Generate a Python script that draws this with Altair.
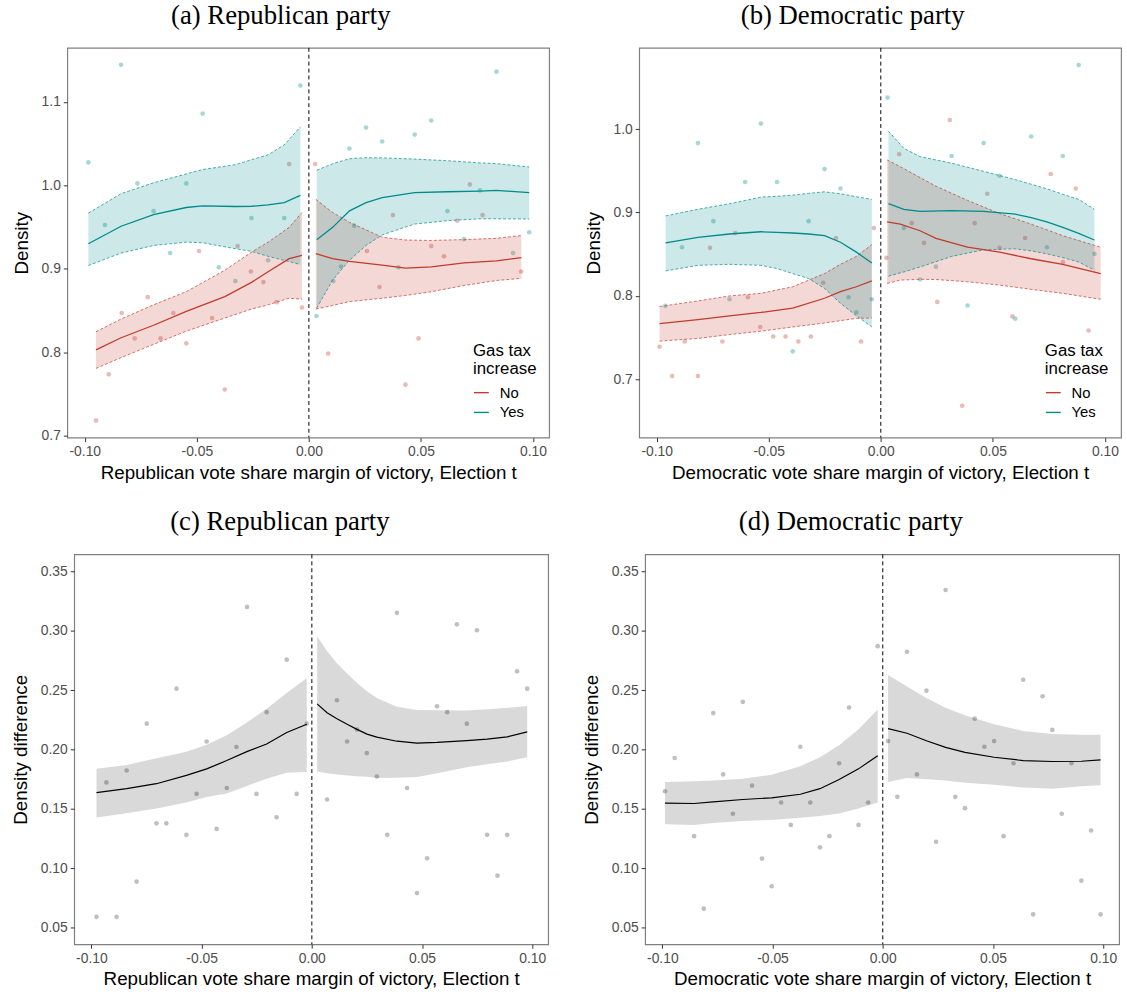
import altair as alt
import pandas as pd

# ---------------- shared ----------------
XDOM = [-0.1078, 0.1072]
XTICKS = [-0.10, -0.05, 0.0, 0.05, 0.10]
GROUPS = ["No", "Yes"]
GROUP_COLORS = ["#C13B2E", "#008B8B"]
REP_XTITLE = "Republican vote share margin of victory, Election t"
DEM_XTITLE = "Democratic vote share margin of victory, Election t"

# ---------------- panel (a) Republican party: density by gas tax ----------------
a_yes_x = [-0.0838, -0.0038, -0.0474, -0.0984, -0.0765, -0.0547, -0.0910, -0.0693, -0.0256, -0.0110,
           -0.0619, -0.0402, -0.0182, -0.0328, 0.0034, 0.0837, 0.0546, 0.0255, 0.0472, 0.0327,
           0.0181, 0.0763, 0.0618, 0.0202, 0.0983, 0.0692, 0.0143, 0.0400, 0.0109, 0.0911]
a_yes_y = [1.1447, 1.1198, 1.0861, 1.0276, 1.0024, 1.0024, 0.9525, 0.9691, 0.9608, 0.9608,
           0.9189, 0.9019, 0.9102, 0.8853, 0.8434, 1.1364, 1.0779, 1.0695, 1.0609, 1.0526,
           1.0442, 0.9940, 0.9691, 0.9517, 0.9438, 0.9355, 0.9027, 0.9019, 0.8853, 0.9189]
a_no_x = [-0.0088, -0.0318, -0.0490, -0.0719, -0.0835, -0.0605, -0.0432, -0.0259, -0.0203, -0.0144,
          -0.0777, -0.0662, -0.0547, -0.0893, -0.0375, -0.0950, -0.0031, 0.0028, 0.0718, 0.0375,
          0.0775, 0.0662, 0.0259, 0.0546, 0.0603, 0.0315, 0.0947, 0.0086, 0.0489, 0.0431]
a_no_y = [1.0256, 0.9272, 0.9213, 0.8660, 0.8470, 0.8470, 0.8410, 0.8968, 0.8841, 0.8600,
          0.8165, 0.8165, 0.8106, 0.7734, 0.7552, 0.7180, 0.8536, 1.0256, 1.0012, 0.9644,
          0.9644, 0.9576, 0.9213, 0.9272, 0.9150, 0.8782, 0.8968, 0.7983, 0.8165, 0.7611]

a_yes_l_x = [-0.0984, -0.0838, -0.0693, -0.0547, -0.0474, -0.0328, -0.0256, -0.0182, -0.0110, -0.0038]
a_yes_l_fit = [0.930, 0.951, 0.965, 0.9735, 0.9754, 0.9747, 0.9750, 0.9766, 0.9794, 0.9881]
a_yes_l_lo = [0.9039, 0.9189, 0.9280, 0.9320, 0.9312, 0.9241, 0.9209, 0.9150, 0.9102, 0.9051]
a_yes_l_hi = [0.9668, 0.9901, 1.0031, 1.0138, 1.0190, 1.0249, 1.0308, 1.0367, 1.0486, 1.0703]

a_no_l_x = [-0.0950, -0.0838, -0.0693, -0.0547, -0.0375, -0.0256, -0.0182, -0.0088, -0.0031]
a_no_l_fit = [0.8027, 0.8173, 0.8323, 0.8489, 0.8667, 0.8837, 0.8964, 0.9122, 0.9161]
a_no_l_lo = [0.7805, 0.7935, 0.8094, 0.8252, 0.8410, 0.8517, 0.8568, 0.8647, 0.8635]
a_no_l_hi = [0.8244, 0.8398, 0.8568, 0.8726, 0.8983, 0.9200, 0.9319, 0.9497, 0.9675]

a_yes_r_x = [0.0035, 0.0106, 0.0181, 0.0255, 0.0327, 0.0472, 0.0618, 0.0764, 0.0837, 0.0983]
a_yes_r_fit = [0.9347, 0.9497, 0.9695, 0.9794, 0.9853, 0.9913, 0.9924, 0.9932, 0.9940, 0.9913]
a_yes_r_lo = [0.8529, 0.8865, 0.9102, 0.9280, 0.9407, 0.9537, 0.9577, 0.9600, 0.9600, 0.9597]
a_yes_r_hi = [1.0182, 1.0260, 1.0320, 1.0332, 1.0330, 1.0316, 1.0296, 1.0270, 1.0261, 1.0221]

a_no_r_x = [0.0031, 0.0106, 0.0181, 0.0327, 0.0431, 0.0546, 0.0692, 0.0837, 0.0948]
a_no_r_fit = [0.9181, 0.9122, 0.9090, 0.9043, 0.9007, 0.9023, 0.9070, 0.9094, 0.9134]
a_no_r_lo = [0.8517, 0.8560, 0.8607, 0.8647, 0.8680, 0.8725, 0.8800, 0.8860, 0.8885]
a_no_r_hi = [0.9833, 0.9675, 0.9557, 0.9379, 0.9345, 0.9340, 0.9350, 0.9365, 0.9399]

# ---------------- panel (b) Democratic party: density by gas tax ----------------
b_yes_x = [-0.0535, -0.0816, 0.0030, -0.0251, -0.0605, -0.0463, -0.0180, -0.0747, -0.0322, -0.0887,
           -0.0961, -0.0675, -0.0144, -0.0109, -0.0040, -0.0393, 0.0883, 0.0671, 0.0459, 0.0316,
           0.0812, 0.0530, 0.0103, 0.0741, 0.0953, 0.0246, 0.0175, 0.0387, 0.0600]
b_yes_y = [1.0067, 0.9833, 1.0379, 0.9521, 0.9367, 0.9367, 0.9288, 0.8897, 0.8897, 0.8584,
           0.7881, 0.7960, 0.7984, 0.7802, 0.7960, 0.7335, 1.0770, 0.9912, 0.9833, 0.9679,
           0.9679, 0.9442, 0.8814, 0.8584, 0.8505, 0.8351, 0.8197, 0.7885, 0.7727]
b_no_x = [-0.0762, -0.0650, -0.0200, -0.0593, -0.0538, -0.0031, 0.0025, -0.0257, -0.0987, -0.0875,
          -0.0707, -0.0480, -0.0425, -0.0368, -0.0312, -0.0088, -0.0931, -0.0816, 0.0308, 0.0082,
          0.0758, 0.0870, 0.0475, 0.0138, 0.0419, 0.0193, 0.0644, 0.0530, 0.0813, 0.0252,
          0.0587, 0.0363, 0.0927]
b_no_y = [0.8577, 0.8755, 0.8695, 0.7984, 0.7628, 0.8814, 0.8458, 0.8158, 0.7390, 0.7454,
          0.7454, 0.7513, 0.7513, 0.7454, 0.7513, 0.7454, 0.7039, 0.7039, 1.0110, 0.9699,
          0.9462, 0.9288, 0.9225, 0.8873, 0.8873, 0.8636, 0.8695, 0.8577, 0.8407, 0.7928,
          0.7754, 0.6683, 0.7585]

b_yes_l_x = [-0.0960, -0.0816, -0.0675, -0.0535, -0.0463, -0.0393, -0.0322, -0.0251, -0.0180, -0.0109, -0.0040]
b_yes_l_fit = [0.8636, 0.8703, 0.8743, 0.8770, 0.8762, 0.8755, 0.8743, 0.8723, 0.8644, 0.8525, 0.8395]
b_yes_l_lo = [0.8300, 0.8367, 0.8379, 0.8367, 0.8328, 0.8268, 0.8209, 0.8090, 0.7913, 0.7762, 0.7628]
b_yes_l_hi = [0.8960, 0.9039, 0.9106, 0.9185, 0.9195, 0.9209, 0.9230, 0.9249, 0.9225, 0.9190, 0.9158]

b_no_l_x = [-0.0987, -0.0816, -0.0675, -0.0535, -0.0393, -0.0251, -0.0180, -0.0109, -0.0040]
b_no_l_fit = [0.7667, 0.7715, 0.7762, 0.7802, 0.7853, 0.7972, 0.8051, 0.8110, 0.8181]
b_no_l_lo = [0.7458, 0.7490, 0.7537, 0.7577, 0.7628, 0.7675, 0.7703, 0.7731, 0.7735]
b_no_l_hi = [0.7873, 0.7940, 0.8000, 0.8031, 0.8110, 0.8268, 0.8379, 0.8474, 0.8616]

b_yes_r_x = [0.0034, 0.0103, 0.0175, 0.0316, 0.0459, 0.0600, 0.0671, 0.0741, 0.0812, 0.0883, 0.0953]
b_yes_r_fit = [0.9106, 0.9039, 0.9015, 0.9023, 0.9015, 0.8980, 0.8940, 0.8889, 0.8822, 0.8750, 0.8671]
b_yes_r_lo = [0.8237, 0.8288, 0.8347, 0.8474, 0.8553, 0.8565, 0.8540, 0.8505, 0.8460, 0.8407, 0.8308]
b_yes_r_hi = [0.9976, 0.9770, 0.9671, 0.9592, 0.9494, 0.9395, 0.9340, 0.9284, 0.9220, 0.9158, 0.9039]

b_no_r_x = [0.0028, 0.0087, 0.0175, 0.0246, 0.0387, 0.0530, 0.0671, 0.0812, 0.0981]
b_no_r_fit = [0.8889, 0.8861, 0.8782, 0.8691, 0.8584, 0.8525, 0.8446, 0.8379, 0.8268]
b_no_r_lo = [0.8150, 0.8190, 0.8199, 0.8197, 0.8170, 0.8130, 0.8079, 0.8031, 0.7960]
b_no_r_hi = [0.9632, 0.9550, 0.9420, 0.9316, 0.9146, 0.8988, 0.8861, 0.8723, 0.8584]

# ---------------- panel (c) Republican party: density difference ----------------
c_x = [-0.0294, -0.0114, -0.0614, -0.0749, -0.0205, -0.0477, -0.0342, -0.0840, -0.0023, -0.0932,
       -0.0523, -0.0386, -0.0251, -0.0069, -0.0705, -0.0660, -0.0569, -0.0432, -0.0160, -0.0795,
       -0.0977, -0.0886, 0.0386, 0.0658, 0.0749, 0.0931, 0.0977, 0.0114, 0.0568, 0.0614,
       0.0703, 0.0205, 0.0160, 0.0249, 0.0295, 0.0432, 0.0069, 0.0342, 0.0795, 0.0886,
       0.0523, 0.0842, 0.0477]
c_y = [0.3202, 0.2757, 0.2513, 0.2218, 0.2315, 0.2068, 0.2021, 0.1823, 0.2218, 0.1723,
       0.1626, 0.1676, 0.1626, 0.1626, 0.1378, 0.1378, 0.1281, 0.1331, 0.1429, 0.0887,
       0.0590, 0.0590, 0.3152, 0.3055, 0.3005, 0.2660, 0.2513, 0.2415, 0.2365, 0.2315,
       0.2218, 0.2168, 0.2068, 0.1970, 0.1773, 0.1676, 0.1579, 0.1281, 0.1281, 0.1281,
       0.1084, 0.0937, 0.0790]

c_l_x = [-0.0977, -0.0840, -0.0705, -0.0569, -0.0477, -0.0386, -0.0295, -0.0205, -0.0114, -0.0023]
c_l_fit = [0.1637, 0.1670, 0.1712, 0.1782, 0.1837, 0.1907, 0.1982, 0.2046, 0.2143, 0.2213]
c_l_lo = [0.1428, 0.1462, 0.1504, 0.1554, 0.1600, 0.1630, 0.1693, 0.1754, 0.1804, 0.1810]
c_l_hi = [0.1837, 0.1870, 0.1926, 0.1982, 0.2040, 0.2120, 0.2227, 0.2343, 0.2477, 0.2602]

c_r_x = [0.0024, 0.0069, 0.0114, 0.0160, 0.0205, 0.0250, 0.0295, 0.0386, 0.0477, 0.0568, 0.0703, 0.0795, 0.0886, 0.0977]
c_r_fit = [0.2385, 0.2310, 0.2260, 0.2213, 0.2170, 0.2130, 0.2105, 0.2070, 0.2054, 0.2060, 0.2075, 0.2088, 0.2107, 0.2149]
c_r_lo = [0.1815, 0.1800, 0.1790, 0.1782, 0.1775, 0.1770, 0.1760, 0.1762, 0.1768, 0.1800, 0.1850, 0.1875, 0.1899, 0.1935]
c_r_hi = [0.2955, 0.2830, 0.2727, 0.2640, 0.2560, 0.2490, 0.2435, 0.2360, 0.2332, 0.2330, 0.2329, 0.2340, 0.2352, 0.2366]

# ---------------- panel (d) Democratic party: density difference ----------------
d_x = [-0.0023, -0.0635, -0.0769, -0.0153, -0.0944, -0.0374, -0.0724, -0.0198, -0.0593, -0.0988,
       -0.0461, -0.0329, -0.0066, -0.0680, -0.0417, -0.0110, -0.0856, -0.0242, -0.0285, -0.0548,
       -0.0504, -0.0812, 0.0285, 0.0110, 0.0637, 0.0725, 0.0198, 0.0417, 0.0769, 0.0024,
       0.0505, 0.0461, 0.0593, 0.0856, 0.0155, 0.0066, 0.0329, 0.0373, 0.0812, 0.0945,
       0.0548, 0.0242, 0.0901, 0.0682, 0.0988]
d_y = [0.2871, 0.2402, 0.2307, 0.2354, 0.1929, 0.2023, 0.1790, 0.1884, 0.1696, 0.1648,
       0.1554, 0.1554, 0.1554, 0.1459, 0.1365, 0.1365, 0.1270, 0.1270, 0.1176, 0.1081,
       0.0848, 0.0659, 0.3344, 0.2824, 0.2588, 0.2449, 0.2496, 0.2260, 0.2165, 0.2071,
       0.2071, 0.2023, 0.1884, 0.1884, 0.1790, 0.1601, 0.1601, 0.1506, 0.1459, 0.1318,
       0.1270, 0.1223, 0.0895, 0.0611, 0.0611]

d_l_x = [-0.0988, -0.0856, -0.0769, -0.0635, -0.0504, -0.0374, -0.0285, -0.0198, -0.0110, -0.0023]
d_l_fit = [0.1548, 0.1545, 0.1559, 0.1579, 0.1593, 0.1623, 0.1670, 0.1748, 0.1837, 0.1948]
d_l_lo = [0.1370, 0.1365, 0.1380, 0.1398, 0.1406, 0.1426, 0.1440, 0.1460, 0.1504, 0.1554]
d_l_hi = [0.1726, 0.1732, 0.1740, 0.1754, 0.1787, 0.1859, 0.1935, 0.2037, 0.2171, 0.2338]

d_r_x = [0.0024, 0.0110, 0.0198, 0.0285, 0.0373, 0.0505, 0.0637, 0.0769, 0.0901, 0.0988]
d_r_fit = [0.2176, 0.2137, 0.2074, 0.2018, 0.1976, 0.1935, 0.1907, 0.1899, 0.1901, 0.1912]
d_r_lo = [0.1726, 0.1760, 0.1750, 0.1740, 0.1720, 0.1704, 0.1679, 0.1670, 0.1690, 0.1698]
d_r_hi = [0.2627, 0.2532, 0.2435, 0.2352, 0.2288, 0.2213, 0.2157, 0.2130, 0.2124, 0.2124]


# ---------------- helpers ----------------
COLOR_OF = dict(zip(GROUPS, GROUP_COLORS))


def fit_df(g, side, xs, fit, lo, hi):
    return pd.DataFrame({"x": xs, "fit": fit, "lo": lo, "hi": hi, "g": g, "side": side})


def pts_df(xs, ys, g):
    return pd.DataFrame({"x": xs, "y": ys, "g": g})


XLABEL = "datum.value < 0 ? '-' + format(-datum.value, '.2f') : format(datum.value, '.2f')"


def axes(xtitle, ytitle, ydom, yvals, yfmt):
    xs = alt.Scale(domain=XDOM, nice=False, zero=False)
    ys = alt.Scale(domain=ydom, nice=False, zero=False)
    xax = alt.Axis(values=XTICKS, labelExpr=XLABEL, title=xtitle)
    yax = alt.Axis(values=yvals, format=yfmt, title=ytitle, titlePadding=10)

    def X(f):
        return alt.X(f"{f}:Q", scale=xs, axis=xax)

    def Y(f):
        return alt.Y(f"{f}:Q", scale=ys, axis=yax)
    return X, Y


def zero_line(X):
    return alt.Chart(pd.DataFrame({"x": [0.0]})).mark_rule(
        color="black", strokeDash=[4, 3], strokeWidth=1
    ).encode(x=X("x"))


LEGEND = alt.Legend(
    title=["Gas tax", "increase"], orient="none", legendX=401, legendY=289,
    fillColor="white", padding=9, symbolType="stroke", symbolSize=225,
    symbolStrokeWidth=1.4, titleFontSize=17, labelFontSize=15,
    titleFont="Liberation Sans", labelFont="Liberation Sans",
    titleFontWeight="normal", titleColor="black", labelColor="black",
    titlePadding=6, rowPadding=3, labelOffset=10,
)


def group_panel(title, xtitle, pts, fits, ydom, yvals):
    X, Y = axes(xtitle, "Density", ydom, yvals, ".1f")
    pts = pts.assign(col=pts["g"].map(COLOR_OF))
    fits = fits.assign(col=fits["g"].map(COLOR_OF))
    fixed_fill = alt.Fill("col:N", scale=None)
    fixed_stroke = alt.Stroke("col:N", scale=None)
    points = alt.Chart(pts).mark_circle(size=22, opacity=0.35).encode(
        x=X("x"), y=Y("y"), fill=fixed_fill)
    band = alt.Chart(fits).mark_area(opacity=0.2).encode(
        x=X("x"), y=Y("lo"), y2="hi:Q", fill=fixed_fill, detail="side:N")
    edge_lo = alt.Chart(fits).mark_line(strokeDash=[3, 2], strokeWidth=0.7).encode(
        x=X("x"), y=Y("lo"), stroke=fixed_stroke, detail="side:N")
    edge_hi = alt.Chart(fits).mark_line(strokeDash=[3, 2], strokeWidth=0.7).encode(
        x=X("x"), y=Y("hi"), stroke=fixed_stroke, detail="side:N")
    line = alt.Chart(fits).mark_line(strokeWidth=1.3).encode(
        x=X("x"), y=Y("fit"),
        stroke=alt.Stroke("g:N", scale=alt.Scale(domain=GROUPS, range=GROUP_COLORS),
                          legend=LEGEND),
        detail="side:N")
    return alt.layer(points, band, edge_lo, edge_hi, line, zero_line(X)).properties(
        width=487, height=394, title=title)


def diff_panel(title, xtitle, pts, fits):
    X, Y = axes(xtitle, "Density difference", [0.0359, 0.3644],
                [0.05, 0.10, 0.15, 0.20, 0.25, 0.30, 0.35], ".2f")
    points = alt.Chart(pts).mark_circle(size=22, color="#7F7F7F", opacity=0.5).encode(
        x=X("x"), y=Y("y"))
    band = alt.Chart(fits).mark_area(color="black", opacity=0.15).encode(
        x=X("x"), y=Y("lo"), y2="hi:Q", detail="side:N")
    line = alt.Chart(fits).mark_line(color="black", strokeWidth=1.2).encode(
        x=X("x"), y=Y("fit"), detail="side:N")
    return alt.layer(points, band, line, zero_line(X)).properties(
        width=479, height=394, title=title)


def spacer():
    return alt.Chart(pd.DataFrame({"v": [0]})).mark_point(opacity=0).properties(
        width=1, height=1, view=alt.ViewBackground(strokeWidth=0))


# ---------------- build panels ----------------
a_pts = pd.concat([pts_df(a_no_x, a_no_y, "No"), pts_df(a_yes_x, a_yes_y, "Yes")])
a_fit = pd.concat([
    fit_df("No", "L", a_no_l_x, a_no_l_fit, a_no_l_lo, a_no_l_hi),
    fit_df("No", "R", a_no_r_x, a_no_r_fit, a_no_r_lo, a_no_r_hi),
    fit_df("Yes", "L", a_yes_l_x, a_yes_l_fit, a_yes_l_lo, a_yes_l_hi),
    fit_df("Yes", "R", a_yes_r_x, a_yes_r_fit, a_yes_r_lo, a_yes_r_hi),
])
b_pts = pd.concat([pts_df(b_no_x, b_no_y, "No"), pts_df(b_yes_x, b_yes_y, "Yes")])
b_fit = pd.concat([
    fit_df("No", "L", b_no_l_x, b_no_l_fit, b_no_l_lo, b_no_l_hi),
    fit_df("No", "R", b_no_r_x, b_no_r_fit, b_no_r_lo, b_no_r_hi),
    fit_df("Yes", "L", b_yes_l_x, b_yes_l_fit, b_yes_l_lo, b_yes_l_hi),
    fit_df("Yes", "R", b_yes_r_x, b_yes_r_fit, b_yes_r_lo, b_yes_r_hi),
])
c_pts = pd.DataFrame({"x": c_x, "y": c_y})
c_fit = pd.concat([
    fit_df("all", "L", c_l_x, c_l_fit, c_l_lo, c_l_hi),
    fit_df("all", "R", c_r_x, c_r_fit, c_r_lo, c_r_hi),
])
d_pts = pd.DataFrame({"x": d_x, "y": d_y})
d_fit = pd.concat([
    fit_df("all", "L", d_l_x, d_l_fit, d_l_lo, d_l_hi),
    fit_df("all", "R", d_r_x, d_r_fit, d_r_lo, d_r_hi),
])

pa = group_panel("(a) Republican party", REP_XTITLE, a_pts, a_fit,
                 [0.6975, 1.165], [0.7, 0.8, 0.9, 1.0, 1.1])
pb = group_panel("(b) Democratic party", DEM_XTITLE, b_pts, b_fit,
                 [0.630, 1.0976], [0.7, 0.8, 0.9, 1.0])
pc = diff_panel("(c) Republican party", REP_XTITLE, c_pts, c_fit)
pd_ = diff_panel("(d) Democratic party", DEM_XTITLE, d_pts, d_fit)

top_inner = alt.hconcat(pa, pb, spacing=33).resolve_scale(
    stroke="independent"
).resolve_legend(stroke="independent")
bottom_inner = alt.hconcat(pc, pd_, spacing=33)
top = alt.hconcat(spacer(), top_inner, spacing=0)
bottom = alt.hconcat(spacer(), bottom_inner, spacing=0)

chart = alt.vconcat(top, bottom, spacing=24).properties(
    padding={"left": 4, "top": -5, "right": 5, "bottom": 5}
).configure_view(
    stroke="#808080", strokeWidth=1.2
).configure_axis(
    labelFont="Liberation Sans", titleFont="Liberation Sans",
    labelFontSize=14, titleFontSize=19, labelColor="#4D4D4D", titleColor="black",
    titleFontWeight="normal", tickColor="#333333", tickSize=4, domain=False,
    grid=False, labelPadding=3, titlePadding=5,
).configure_title(
    font="Liberation Serif", fontSize=27, fontWeight="normal", color="black",
    anchor="middle", frame="bounds", offset=18,
)

chart.save("out.html", embed_options={"renderer": "svg", "actions": False})
